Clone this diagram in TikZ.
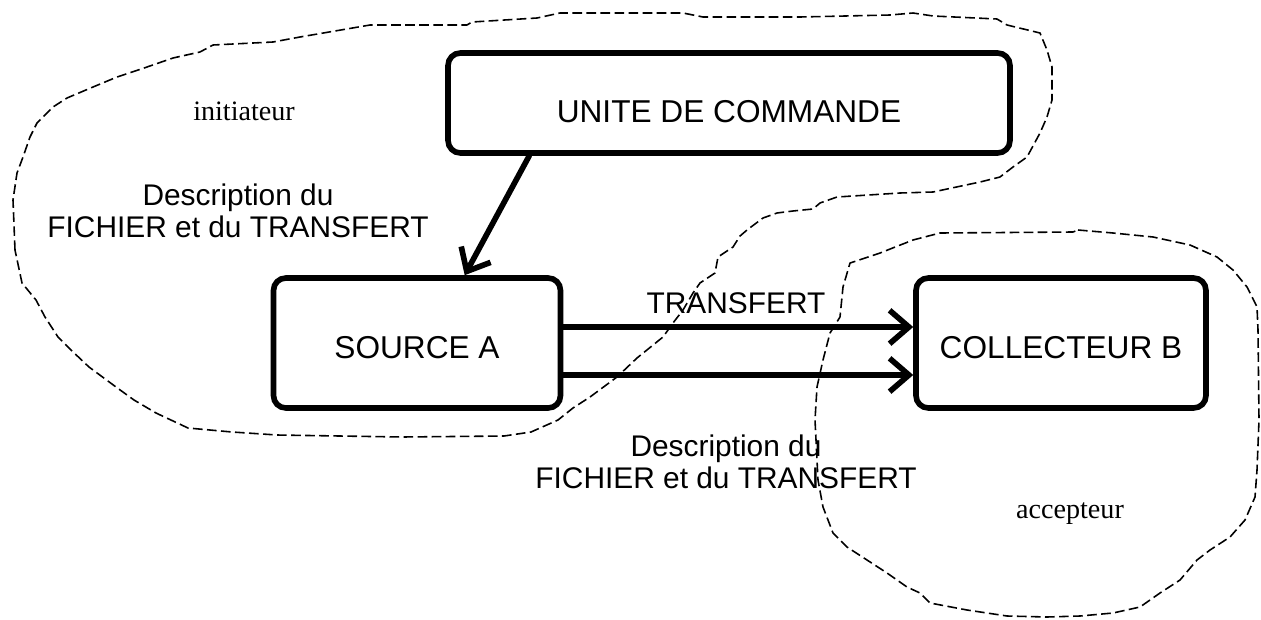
\documentclass[tikz,border=0pt]{standalone}
\usepackage{fontspec}
\setmainfont{Liberation Serif}
\setsansfont{Liberation Sans}
\usetikzlibrary{arrows.meta,positioning}
\tikzset{
  unitbox/.style={draw=black,rounded corners=7pt,line width=3.2pt,align=center,
    font=\sffamily\fontsize{18}{18}\selectfont,minimum height=2.6cm,
    text height=18pt,text depth=0pt},
  flow/.style={-{Straight Barb[length=11pt,width=19pt]},line width=3.2pt,line cap=round,draw=black},
  lbl/.style={font=\sffamily\fontsize{17}{18}\selectfont,align=center,inner sep=0pt},
  role/.style={font=\rmfamily\fontsize{16}{16}\selectfont,inner sep=0pt,anchor=base},
  zone/.style={draw=black,line width=0.9pt,dash pattern=on 5.5pt off 2.5pt,line join=round}
}

\begin{document}
\begin{tikzpicture}[x=0.02cm,y=-0.02cm]
  \useasboundingbox (0,0) rectangle (1261,619);
  % zones
  \draw[zone] (15,250) -- (13,200) -- (17,173) -- (23,157) -- (30,137) -- (37,123) -- (53,107)
    -- (67,98) -- (93,87) -- (117,77) -- (147,67) -- (173,58) -- (200,52) -- (213,45) -- (273,42)
    -- (300,37) -- (370,25) -- (467,25) -- (472,22) -- (537,18) -- (560,13) -- (683,13) -- (703,17)
    -- (800,17) -- (890,15) -- (913,13) -- (933,16) -- (997,19) -- (1007,25) -- (1040,33)
    -- (1047,50) -- (1052,67) -- (1052,100) -- (1047,117) -- (1040,133) -- (1027,157) -- (1013,167)
    -- (1000,177) -- (980,182) -- (933,192) -- (900,193) -- (837,197) -- (820,203) -- (813,209)
    -- (793,211) -- (777,213) -- (763,218) -- (747,230) -- (740,236) -- (733,247) -- (718,257)
    -- (715,273) -- (700,283) -- (693,293) -- (683,310) -- (673,323) -- (663,337) -- (637,358)
    -- (617,377) -- (590,397) -- (573,408) -- (558,420) -- (531,432) -- (504,436) -- (402,437)
    -- (277,435) -- (232,432) -- (188,428) -- (156,413) -- (134,400) -- (116,387) -- (89,367)
    -- (71,350) -- (58,337) -- (45,317) -- (36,300) -- (22,283) -- cycle;
  \draw[zone] (1078,230) -- (1113,233) -- (1153,237) -- (1190,245) -- (1217,257) -- (1233,270)
    -- (1247,287) -- (1257,307) -- (1258,330) -- (1259,420) -- (1257,470) -- (1255,497)
    -- (1245,520) -- (1230,537) -- (1210,550) -- (1197,560) -- (1180,580) -- (1160,593)
    -- (1140,607) -- (1113,613) -- (1080,616) -- (1047,617) -- (1007,616) -- (967,610) -- (930,603)
    -- (920,593) -- (907,587) -- (887,573) -- (867,560) -- (847,547) -- (833,533) -- (823,507)
    -- (818,480) -- (815,420) -- (817,387) -- (823,360) -- (830,333) -- (840,317) -- (843,287)
    -- (850,263) -- (880,253) -- (913,240) -- (940,233) -- (1073,232) -- cycle;
  \node[role] (initiateur) at (244,120) {initiateur};
  \node[role] (accepteur) at (1070,518) {accepteur};
  % boxes
  \node[unitbox,minimum width=5.74cm] (srcA) at (417,343) {SOURCE A};
  \node[unitbox,minimum width=5.8cm,right=7cm of srcA] (collB) {COLLECTEUR B};
  \node[unitbox,minimum width=11.24cm,minimum height=2cm,text height=22pt] (unite) at (729,103) {UNITE DE COMMANDE};
  % links
  \draw[flow] ([xshift=1.68cm]unite.south west) -- ([xshift=3.88cm]srcA.north west);
  \draw[flow] ([yshift=0.32cm]srcA.east) -- ([yshift=0.32cm]collB.west);
  \draw[flow] ([yshift=-0.64cm]srcA.east) -- ([yshift=-0.64cm]collB.west);
  \node[lbl,anchor=base] (transfert) at (736,313) {TRANSFERT};
  \node[lbl] (descA) at (238,211) {Description du\\FICHIER et du TRANSFERT};
  \node[lbl] (descB) at (726,462) {Description du\\FICHIER et du TRANSFERT};
\end{tikzpicture}
\end{document}
